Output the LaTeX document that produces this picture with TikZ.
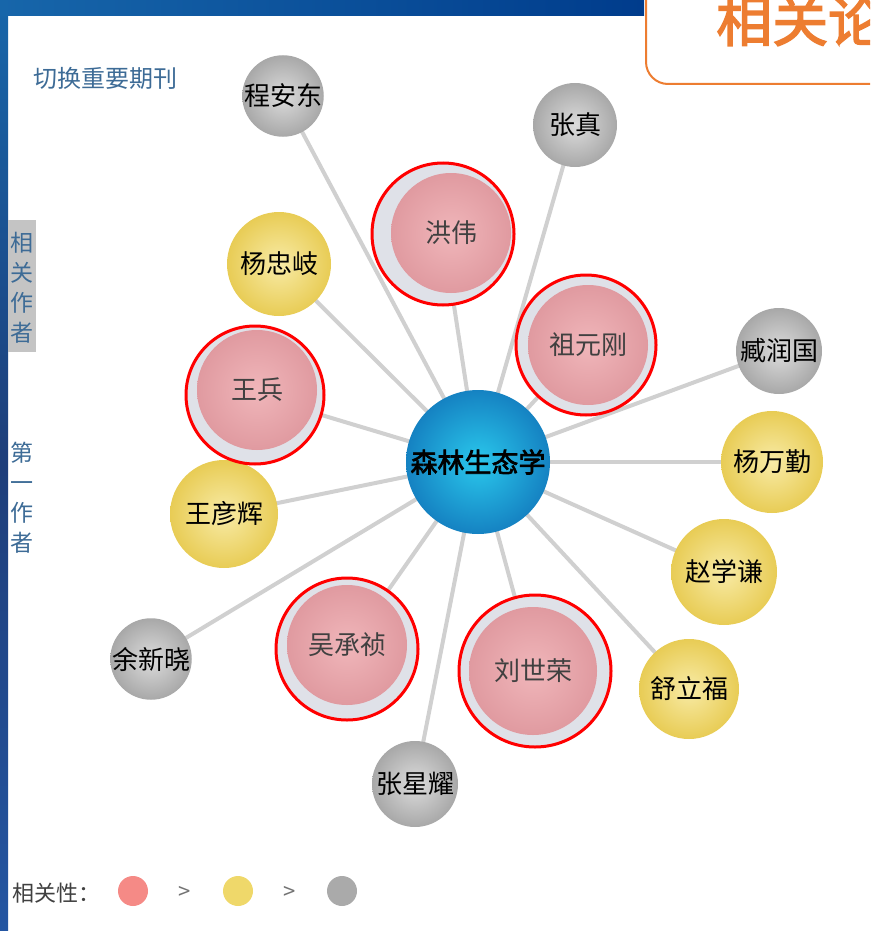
\documentclass[tikz,border=0pt]{standalone}
\usepackage{fontspec}
\newfontfamily\cjk{Noto Sans CJK SC}
\newfontfamily\cjkb{Noto Sans CJK SC}[FakeBold=2.5]
\usetikzlibrary{backgrounds}
\definecolor{edgegray}{HTML}{D0D0D0}
\definecolor{gin}{HTML}{DCDCDC}
\definecolor{gout}{HTML}{A8A8A8}
\definecolor{yin}{HTML}{F8EBA6}
\definecolor{yout}{HTML}{E8CC55}
\definecolor{pin}{HTML}{F0B6BA}
\definecolor{pout}{HTML}{E09AA0}
\definecolor{bin}{HTML}{2AC8EC}
\definecolor{bout}{HTML}{1582C2}
\definecolor{ringfill}{HTML}{DFE1E8}
\definecolor{ringred}{HTML}{FF0000}
\definecolor{linkblue}{HTML}{3D6B96}
\definecolor{tabgray}{HTML}{C4C4C4}
\definecolor{orangeA}{HTML}{ED7D31}
\definecolor{legpink}{HTML}{F58A86}
\definecolor{legyellow}{HTML}{EFD86A}
\definecolor{leggray}{HTML}{AAAAAA}
\definecolor{barA}{HTML}{1766AA}
\definecolor{barB}{HTML}{1E3E7A}
\definecolor{barC}{HTML}{2456A2}
\definecolor{barD}{HTML}{003C8C}
\tikzset{
  namefont/.style={font=\cjk\fontsize{26}{28}\selectfont},
  graynode/.style={circle, inner sep=0pt, minimum size=#1, shading=radial, inner color=gin, outer color=gout, namefont, text=black},
  yellownode/.style={circle, inner sep=0pt, minimum size=#1, shading=radial, inner color=yin, outer color=yout, namefont, text=black},
  ringnode/.style={circle, inner sep=0pt, minimum size=#1, fill=ringfill, draw=ringred, line width=3pt},
  pinknode/.style={circle, inner sep=0pt, minimum size=#1, shading=radial, inner color=pin, outer color=pout, namefont, text=black!75},
  centernode/.style={circle, inner sep=0pt, minimum size=#1, shading=radial, inner color=bin, outer color=bout, font=\cjkb\fontsize{27}{29}\selectfont, text=black},
  link/.style={draw=edgegray, line width=4pt},
  sidetext/.style={font=\cjk\fontsize{23}{30}\selectfont, text=linkblue, align=center, inner sep=0pt},
  legdot/.style={circle, inner sep=0pt, minimum size=30pt},
  legtext/.style={font=\cjk\fontsize{22}{24}\selectfont, text=black!75, inner sep=0pt}
}
\begin{document}
\begin{tikzpicture}[x=1pt, y=-1pt]
\useasboundingbox (0,0) rectangle (870,931);
\clip (0,0) rectangle (870,931);
% frame bars
\shade[top color=barA, bottom color=barC, middle color=barB] (0,0) rectangle (8,931);
\shade[left color=barA, right color=barD] (0,0) rectangle (644,16);
% orange title box
\draw[orangeA, line width=2pt, fill=white, rounded corners=22pt] (646,-40) -- (646,84) -- (900,84) -- (900,-40);
\node[anchor=west, font=\cjkb\fontsize{56}{58}\selectfont, text=orangeA, inner sep=0pt] (title) at (716,20) {相关论文};
% side texts
\node[sidetext, font=\cjk\fontsize{24}{26}\selectfont] (switch) at (105,78) {切换重要期刊};
\node[fill=tabgray, minimum width=28pt, minimum height=132pt, inner sep=0pt] (tab) at (22,286) {};
\node[sidetext] (tabtext) at (22,288) {相\\关\\作\\者};
\node[sidetext] (first) at (22,498) {第\\一\\作\\者};
% nodes
\node[centernode=144pt] (c) at (478,462) {森林生态学};
\node[graynode=80pt] (cad) at (283,96) {程安东};
\node[graynode=84pt] (zz) at (575,125) {张真};
\node[ringnode=142pt] (hw) at (443,234) {};
\node[pinknode=120pt] (hwi) at (451,233) {洪伟};
\node[yellownode=104pt] (yzq) at (279,264) {杨忠岐};
\node[ringnode=140pt] (zyg) at (586,345) {};
\node[pinknode=120pt] (zygi) at (588,345) {祖元刚};
\node[graynode=86pt] (zrg) at (779,351) {臧润国};
\node[yellownode=102pt] (ywq) at (772,462) {杨万勤};
\node[yellownode=106pt] (zxq) at (724,572) {赵学谦};
\node[yellownode=100pt] (slf) at (689,689) {舒立福};
\node[ringnode=152pt] (lsr) at (535,671) {};
\node[pinknode=128pt] (lsri) at (533,671) {刘世荣};
\node[ringnode=142pt] (wcz) at (347,649) {};
\node[pinknode=120pt] (wczi) at (347,645) {吴承祯};
\node[graynode=86pt] (zxy) at (415,784) {张星耀};
\node[graynode=80pt] (yxx) at (151,659) {余新晓};
\node[yellownode=108pt] (wyh) at (224,514) {王彦辉};
\node[ringnode=138pt] (wb) at (255,395) {};
\node[pinknode=120pt] (wbi) at (257,390) {王兵};
% links
\begin{pgfonlayer}{background}
\foreach \n in {cad,zz,hw,yzq,zyg,zrg,ywq,zxq,slf,lsr,wcz,zxy,yxx,wyh,wb}
  \draw[link] (c.center) -- (\n.center);
\end{pgfonlayer}
% legend
\node[legtext, anchor=west] (leg) at (12,893) {相关性：};
\node[legdot, fill=legpink] (lp) at (133,891) {};
\node[legtext, text=black!55] (gt1) at (185,893) {>};
\node[legdot, fill=legyellow] (ly) at (238,891) {};
\node[legtext, text=black!55] (gt2) at (290,893) {>};
\node[legdot, fill=leggray] (lg) at (342,891) {};
\end{tikzpicture}
\end{document}
